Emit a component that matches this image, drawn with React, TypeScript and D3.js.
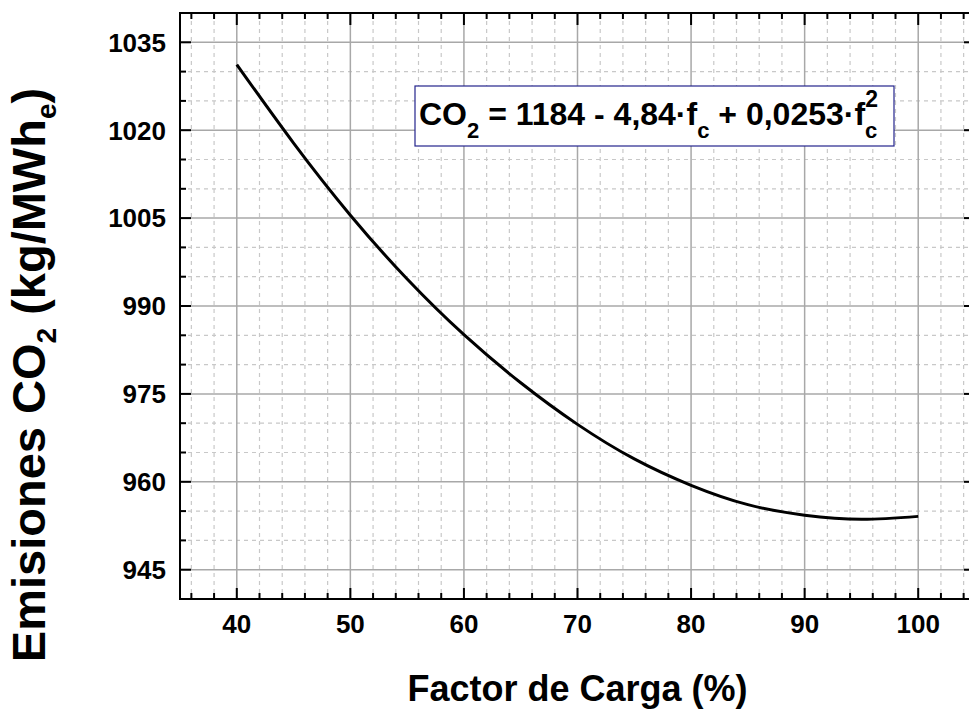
import React from "react";
import * as d3 from "d3";

const loadFactor = [40, 45, 50, 55, 60, 65, 70, 75, 80, 85, 90, 95, 100];
const emissions = [1031.2, 1017.8, 1005.5, 994.6, 985.1, 976.9, 969.8, 963.9, 959.4, 956.1, 954.3, 953.6, 954.1];
const xMajorTicks = [40, 50, 60, 70, 80, 90, 100];
const yMajorTicks = [945, 960, 975, 990, 1005, 1020, 1035];
const xTitle = "Factor de Carga (%)";

const W = 969;
const H = 710;
const M = { left: 180, top: 13, right: 975, bottom: 599 };
const FONT = "'Liberation Sans', Arial, sans-serif";

export default function App() {
  const x = d3.scaleLinear().domain([35, 105]).range([M.left, M.right]);
  const y = d3.scaleLinear().domain([940, 1040]).range([M.bottom, M.top]);

  const xMinor = d3.range(36, 105, 2).filter((v) => v % 10 !== 0);
  const yMinor = d3.range(940, 1041, 5).filter((v) => !yMajorTicks.includes(v) && v > 940 && v < 1040);
  const xMajorAll = d3.range(40, 105, 10);

  const pts = loadFactor.map((f, i) => [f, emissions[i]] as [number, number]);
  const line = d3
    .line<[number, number]>()
    .x((d) => x(d[0]))
    .y((d) => y(d[1]))
    .curve(d3.curveNatural);

  return (
    <svg width={W} height={H} style={{ position: "absolute", left: 0, top: 0, background: "#fff" }}>
      <rect x={0} y={0} width={W} height={H} fill="#fff" />
      {/* minor grid */}
      <g stroke="#c8c8c8" strokeWidth={1.2} strokeDasharray="4,4">
        {xMinor.map((v) => (
          <line key={"xm" + v} x1={x(v)} x2={x(v)} y1={M.top} y2={M.bottom} />
        ))}
        {yMinor.map((v) => (
          <line key={"ym" + v} x1={M.left} x2={M.right} y1={y(v)} y2={y(v)} />
        ))}
      </g>
      {/* major grid */}
      <g stroke="#a8a8a8" strokeWidth={1.5}>
        {xMajorAll.map((v) => (
          <line key={"xM" + v} x1={x(v)} x2={x(v)} y1={M.top} y2={M.bottom} />
        ))}
        {yMajorTicks.map((v) => (
          <line key={"yM" + v} x1={M.left} x2={M.right} y1={y(v)} y2={y(v)} />
        ))}
      </g>
      {/* curve */}
      <path d={line(pts) || ""} fill="none" stroke="#000" strokeWidth={3} />
      {/* frame */}
      <rect x={M.left} y={M.top} width={M.right - M.left} height={M.bottom - M.top} fill="none" stroke="#000" strokeWidth={2} />
      {/* ticks */}
      <g stroke="#000" strokeWidth={2}>
        {xMajorAll.map((v) => (
          <g key={"xt" + v}>
            <line x1={x(v)} x2={x(v)} y1={M.bottom} y2={M.bottom - 11} />
            <line x1={x(v)} x2={x(v)} y1={M.top} y2={M.top + 12} />
          </g>
        ))}
        {xMinor.map((v) => (
          <g key={"xtm" + v}>
            <line x1={x(v)} x2={x(v)} y1={M.bottom} y2={M.bottom - 6} />
            <line x1={x(v)} x2={x(v)} y1={M.top} y2={M.top + 6} />
          </g>
        ))}
        {yMajorTicks.map((v) => (
          <g key={"yt" + v}>
            <line x1={M.left} x2={M.left + 11} y1={y(v)} y2={y(v)} />
            <line x1={M.right} x2={M.right - 11} y1={y(v)} y2={y(v)} />
          </g>
        ))}
        {yMinor.map((v) => (
          <g key={"ytm" + v}>
            <line x1={M.left} x2={M.left + 6} y1={y(v)} y2={y(v)} />
            <line x1={M.right} x2={M.right - 6} y1={y(v)} y2={y(v)} />
          </g>
        ))}
      </g>
      {/* tick labels */}
      <g fontFamily={FONT} fontWeight="bold" fontSize={26} fill="#000">
        {xMajorTicks.map((v) => (
          <text key={"xl" + v} x={x(v)} y={633} textAnchor="middle">
            {v}
          </text>
        ))}
        {yMajorTicks.map((v) => (
          <text key={"yl" + v} x={166} y={y(v)} dy="0.36em" textAnchor="end">
            {v}
          </text>
        ))}
      </g>
      {/* axis titles */}
      <text x={(M.left + M.right) / 2} y={701} textAnchor="middle" fontFamily={FONT} fontWeight="bold" fontSize={36} fill="#000">
        {xTitle}
      </text>
      <text
        transform={`translate(45, 375) rotate(-90)`}
        textAnchor="middle"
        fontFamily={FONT}
        fontWeight="bold"
        fontSize={47}
        fill="#000"
      >
        Emisiones CO
        <tspan fontSize={28} dy={11}>2</tspan>
        <tspan dy={-11}> (kg/MWh</tspan>
        <tspan fontSize={28} dy={11}>e</tspan>
        <tspan dy={-11}>)</tspan>
      </text>
      {/* equation box */}
      <rect x={415} y={86} width={479} height={60} fill="#fff" stroke="#23238c" strokeWidth={1.2} />
      <text x={419} y={125} fontFamily={FONT} fontWeight="bold" fontSize={32} fill="#000">
        CO
        <tspan fontSize={22} dy={13}>2</tspan>
        <tspan dy={-13}> = 1184 - 4,84·f</tspan>
        <tspan fontSize={22} dy={13}>c</tspan>
        <tspan dy={-13}> + 0,0253·f</tspan>
        <tspan fontSize={22} dy={13}>c</tspan>
        <tspan fontSize={23} dx={-12} dy={-31}>2</tspan>
      </text>
    </svg>
  );
}
